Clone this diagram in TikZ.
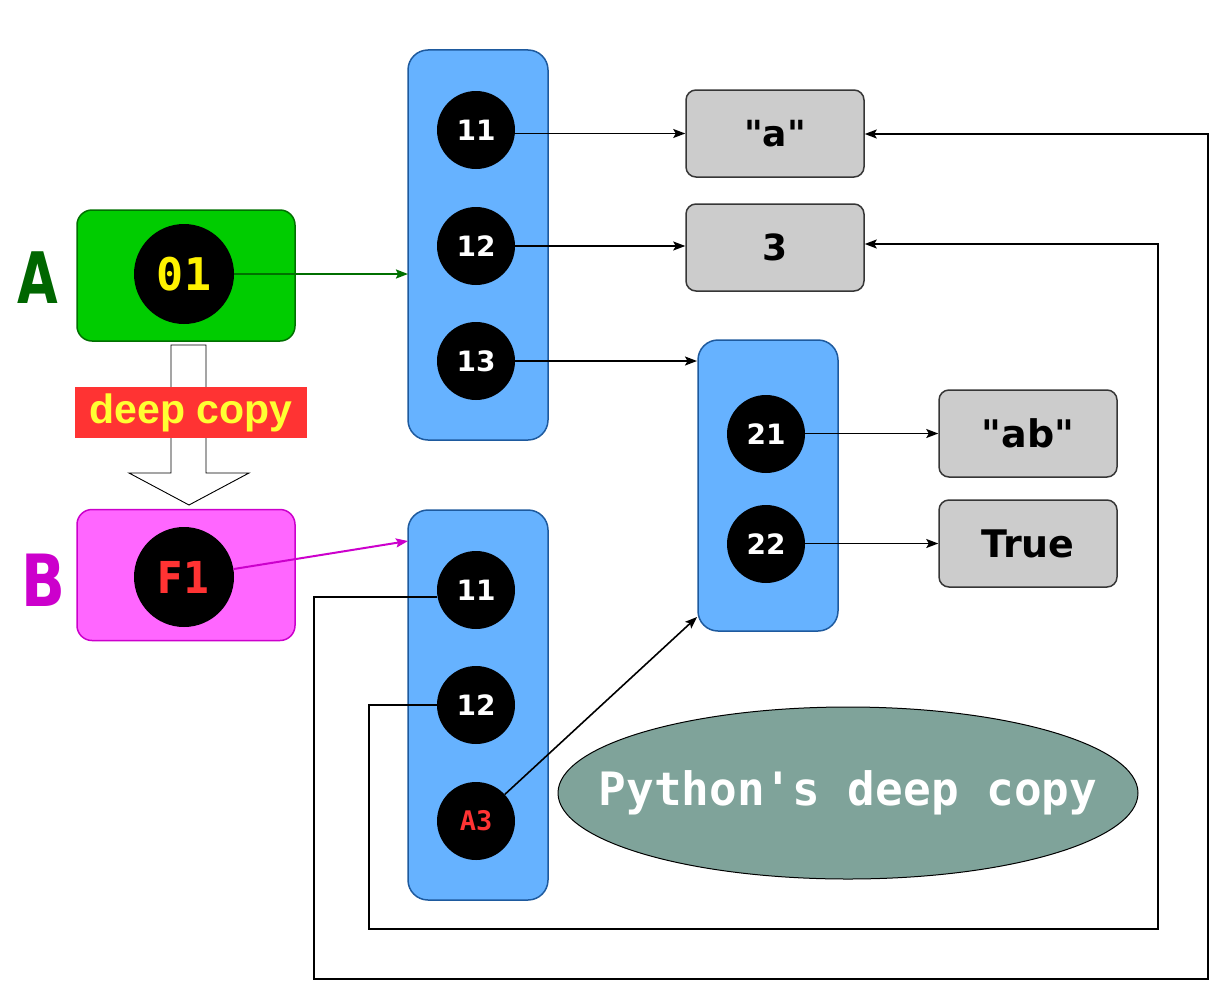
\documentclass[tikz,border=0pt]{standalone}
\usepackage{fontspec}
\usepackage{graphicx}
\usetikzlibrary{shapes.geometric,arrows.meta,calc}
\newfontfamily\dvmono{DejaVu Sans Mono}
\newfontfamily\libsans{Liberation Sans}
\newfontfamily\dvsans{DejaVu Sans}
\definecolor{gfill}{HTML}{00CC00}
\definecolor{gline}{HTML}{007000}
\definecolor{gtext}{HTML}{006600}
\definecolor{mfill}{HTML}{FF66FF}
\definecolor{mline}{HTML}{CC00CC}
\definecolor{bfill}{HTML}{66B2FF}
\definecolor{bline}{HTML}{1E5A9E}
\definecolor{vfill}{HTML}{CCCCCC}
\definecolor{vline}{HTML}{363636}
\definecolor{redc}{HTML}{FF3333}
\definecolor{yelc}{HTML}{FFFF33}
\definecolor{efill}{HTML}{7FA39A}
\tikzset{
  holder/.style={draw=bline, fill=bfill, rounded corners=20pt, line width=1.5pt,
    minimum width=140pt, inner sep=0pt},
  refc/.style={circle, fill=black, minimum size=78pt, inner sep=0pt, text=white,
    font=\dvsans\bfseries\fontsize{28}{28}\selectfont},
  bigref/.style={circle, fill=black, minimum size=100pt, inner sep=0pt},
  valbox/.style={draw=vline, fill=vfill, rounded corners=10pt, line width=1.5pt,
    minimum width=178pt, minimum height=87pt, inner sep=0pt},
  conn/.style={line width=1.6pt, -{Stealth[length=12pt,width=9pt,inset=2.5pt]}},
  owner/.style={rounded corners=15pt, line width=1.5pt, minimum width=218pt,
    minimum height=131pt, inner sep=0pt}
}
\begin{document}
\begin{tikzpicture}[x=1pt,y=-1pt]
\useasboundingbox (0,0) rectangle (1225,998);
% owners
\node[owner, draw=gline, fill=gfill] (boxA) at (186,275.5) {};
\node[owner, draw=mline, fill=mfill] (boxB) at (186,575) {};
\node[text=gtext, font=\dvsans\bfseries\fontsize{71}{71}\selectfont] (labA) at (38,278) {\scalebox{0.74}[1]{A}};
\node[text=mline, font=\dvsans\bfseries\fontsize{72}{72}\selectfont] (labB) at (43,580) {\scalebox{0.8}[1]{B}};
\node[bigref, text=yellow, font=\dvmono\bfseries\fontsize{45}{45}\selectfont] (o1) at (184,274) {01};
\node[bigref, text=redc, font=\dvsans\bfseries\fontsize{44}{44}\selectfont] (f1) at (184,577) {\scalebox{0.86}[1]{F1}};
% deep copy block arrow
\draw[fill=white, line width=0.9pt] (171,345) -- (206,345) -- (206,473) -- (249,473)
  -- (189,505) -- (129,473) -- (171,473) -- cycle;
\node[fill=redc, minimum width=232pt, minimum height=51pt, inner sep=0pt, text=yelc,
  font=\libsans\bfseries\fontsize{41}{41}\selectfont] (dc) at (191,412.5) {deep copy};
% holders
\node[holder, minimum height=390pt] (h1) at (478,245) {};
\node[holder, minimum height=390pt] (h3) at (478,705) {};
\node[holder, minimum height=291pt] (h2) at (768,485.5) {};
\node[refc] (a11) at (476,130) {11};
\node[refc] (a12) at (476,246) {12};
\node[refc] (a13) at (476,361) {13};
\node[refc] (c21) at (766,434) {21};
\node[refc] (c22) at (766,544) {22};
\node[refc] (b11) at (476,590) {11};
\node[refc] (b12) at (476,705) {12};
\node[refc, text=redc, font=\dvmono\bfseries\fontsize{27}{27}\selectfont] (a3) at (476,821) {A3};
% values
\node[valbox, font=\dvsans\bfseries\fontsize{36}{36}\selectfont] (va) at (775,133.5) {"a"};
\node[valbox, font=\dvsans\bfseries\fontsize{36}{36}\selectfont] (v3) at (775,247.5) {3};
\node[valbox, font=\dvsans\bfseries\fontsize{38}{38}\selectfont] (vab) at (1028,433.5) {"ab"};
\node[valbox, font=\dvsans\bfseries\fontsize{38}{38}\selectfont] (vt) at (1028,543.5) {True};
% ellipse
\node[ellipse, draw=black, line width=1pt, fill=efill, minimum width=580pt, minimum height=172pt,
  inner sep=0pt] (el) at (848,793) {};
\node[text=white, font=\dvmono\bfseries\fontsize{46}{46}\selectfont] (eltext) at (el.center) {Python's deep copy};
% target coordinates
\coordinate (tg) at (408,274);
\coordinate (tm) at (408,541);
\coordinate (t13) at (697,361);
\coordinate (t23) at (697,617);
\coordinate (l1) at (314,979);
\coordinate (r1) at (1208,134);
\coordinate (l2) at (369,929);
\coordinate (r2) at (1158,244);
% connectors
\draw[conn, draw=gline, line width=2pt, -{Stealth[length=12pt,width=9pt,inset=2pt]}] (o1) -- (tg);
\draw[conn, draw=mline, line width=2pt, -{Stealth[length=12pt,width=9pt,inset=2pt]}] (f1) -- (tm);
\draw[conn] (va.west -| a11.east) -- (va.west);
\draw[conn] (a12.east) -- (a12.east -| v3.west);
\draw[conn] (a13.east) -- (t13);
\draw[conn] (vab.west -| c21.east) -- (vab.west);
\draw[conn] (vt.west -| c22.east) -- (vt.west);
\draw[conn] (a3) -- (t23);
\draw[conn] (b11.190) -| (l1) -| (r1) -- (r1 -| va.east);
\draw[conn] (b12.west) -| (l2) -| (r2) -- (r2 -| v3.east);
\end{tikzpicture}
\end{document}
